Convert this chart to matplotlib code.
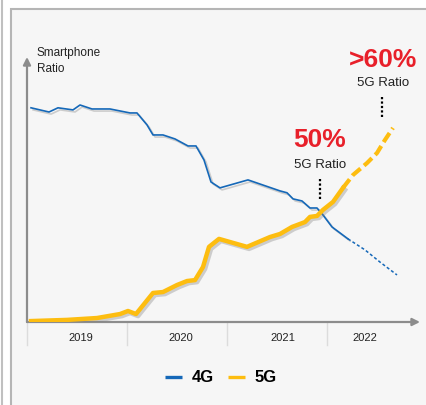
import matplotlib
matplotlib.use('Agg')
import matplotlib.pyplot as plt
import matplotlib.patheffects as pe
from matplotlib.patches import Rectangle
from matplotlib.lines import Line2D
from matplotlib.transforms import blended_transform_factory

plt.rcParams['font.family'] = ['Liberation Sans', 'DejaVu Sans']

# 4G share (%) - solid = actual, dashed = forecast
g4_x = [2019.04, 2019.22, 2019.31, 2019.46, 2019.53, 2019.65, 2019.83, 2020.03, 2020.10,
        2020.20, 2020.26, 2020.36, 2020.48, 2020.61, 2020.69, 2020.77, 2020.84, 2020.93,
        2021.21, 2021.53, 2021.60, 2021.66, 2021.75, 2021.83, 2021.90, 2021.96, 2022.05,
        2022.21]
g4_y = [91.5, 89.7, 91.5, 90.6, 92.7, 91.0, 91.0, 89.3, 89.3,
        84.2, 79.9, 79.9, 78.2, 75.2, 75.2, 69.2, 59.8, 57.3,
        60.7, 56.0, 55.2, 52.6, 51.7, 48.7, 48.7, 45.7, 40.6,
        35.5]
g4_fx = [2022.21, 2022.38, 2022.53, 2022.70]
g4_fy = [35.5, 30.8, 25.6, 20.1]

# 5G share (%)
g5_x = [2019.04, 2019.40, 2019.70, 2019.93, 2020.01, 2020.09, 2020.26, 2020.36, 2020.50,
        2020.60, 2020.68, 2020.76, 2020.82, 2020.92, 2021.20, 2021.43, 2021.53, 2021.65,
        2021.78, 2021.83, 2021.90, 2021.96, 2022.06, 2022.16]
g5_y = [0.4, 0.9, 1.7, 3.4, 4.7, 3.4, 12.4, 12.8, 15.8,
        17.5, 17.9, 23.5, 32.1, 35.5, 32.1, 36.3, 37.6, 40.6,
        42.7, 44.9, 45.3, 47.9, 51.3, 57.3]
g5_fx = [2022.16, 2022.26, 2022.40, 2022.50, 2022.58, 2022.66]
g5_fy = [57.3, 62.8, 67.9, 72.2, 77.8, 82.9]

years = ['2019', '2020', '2021', '2022']
year_bounds = [2019, 2020, 2021, 2022]
year_label_x = [2019.54, 2020.54, 2021.56, 2022.38]

BLUE = '#1568b8'
GOLD = '#fdbd10'
W, H = 427, 405

fig = plt.figure(figsize=(W / 100, H / 100), dpi=100)
fig.patch.set_facecolor('white')

# panel background / frame (behind the axes)
fig.add_artist(Rectangle((11 / W, -0.01), 1.0, 1 - 9 / H + 0.01, transform=fig.transFigure,
                         facecolor='#f6f6f6', edgecolor='#b5b5b5', linewidth=1.5,
                         zorder=-10))
fig.add_artist(Line2D([2 / W, 2 / W], [0, 1], transform=fig.transFigure,
                      color='#c0c0c0', linewidth=1.5, zorder=-10))

ax = fig.add_axes([27 / W, (H - 322) / H, (420 - 27) / W, (322 - 57) / H])
ax.set_xlim(2019, 2022.93)
ax.set_ylim(0, 113.2)
ax.patch.set_alpha(0)
for s in ax.spines.values():
    s.set_visible(False)
ax.set_xticks([]); ax.set_yticks([])

# axis arrows
arrow = dict(arrowstyle='-|>', color='#8c8c8c', lw=1.6, mutation_scale=11,
             shrinkA=0, shrinkB=0)
ax.annotate('', xy=(1, 0), xytext=(0, 0), xycoords='axes fraction', arrowprops=arrow)
ax.annotate('', xy=(0, 1), xytext=(0, 0), xycoords='axes fraction', arrowprops=arrow)

shadow = [pe.SimpleLineShadow(offset=(1.5, -1.5), shadow_color='#808080', alpha=0.35),
          pe.Normal()]
ax.plot(g4_x, g4_y, color=BLUE, lw=1.2, path_effects=shadow, solid_joinstyle='round')
ax.plot(g4_fx, g4_fy, color=BLUE, lw=1.1, linestyle=(0, (2, 1.5)))
ax.plot(g5_x, g5_y, color=GOLD, lw=3.2, path_effects=shadow, solid_joinstyle='round',
        zorder=3)
ax.plot(g5_fx, g5_fy, color=GOLD, lw=3.0, linestyle=(0, (2.6, 1.1)), zorder=3)

# year separators and labels
tr = blended_transform_factory(ax.transData, ax.transAxes)
sep_bottom = -(345 - 322) / (322 - 57)
for xb in year_bounds:
    ax.plot([xb, xb], [0, sep_bottom], transform=tr, color='#dcdcdc', lw=1, clip_on=False)
for lbl, xl in zip(years, year_label_x):
    ax.text(xl, -(338 - 322) / (322 - 57), lbl, transform=tr, ha='center', va='center',
            fontsize=8, color='#222222')

# callouts
ax.text(2021.93, 77.8, '50%', color='#e8202a', fontsize=19, fontweight='bold',
        ha='center', va='center')
ax.text(2021.93, 67.1, '5G Ratio', color='#222222', fontsize=9.5, ha='center', va='center')
ax.plot([2021.93, 2021.93], [52.5, 62.0], color='black', lw=1.6, linestyle=(0, (1, 1)))
ax.text(2022.56, 112.0, '>60%', color='#e8202a', fontsize=19, fontweight='bold',
        ha='center', va='center', clip_on=False)
ax.text(2022.56, 102.1, '5G Ratio', color='#222222', fontsize=9.5, ha='center', va='center')
ax.plot([2022.55, 2022.55], [87.6, 96.2], color='black', lw=1.6, linestyle=(0, (1, 1)))

fig.text(37 / W, 1 - 61 / H, 'Smartphone\nRatio', fontsize=8.5, color='#222222',
         ha='left', va='center', linespacing=1.45)

# legend
handles = [Line2D([], [], color=BLUE, lw=2.4, solid_capstyle='butt'),
           Line2D([], [], color=GOLD, lw=2.4, solid_capstyle='butt')]
fig.legend(handles, ['4G', '5G'], loc='center', bbox_to_anchor=(221 / W, 1 - 378 / H),
           ncol=2, frameon=False, handlelength=1.0, handletextpad=0.6, columnspacing=0.85,
           prop={'weight': 'bold', 'size': 12})

fig.savefig('out.png', dpi=100)
